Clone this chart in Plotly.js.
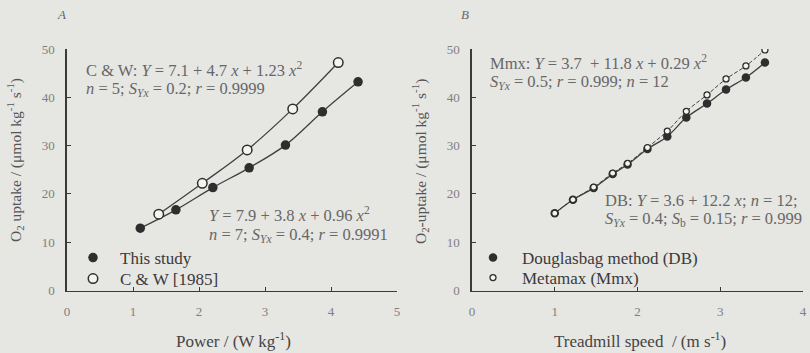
<!DOCTYPE html>
<html><head><meta charset="utf-8">
<script src="https://cdn.plot.ly/plotly-3.0.1.min.js"></script>
<style>html,body{margin:0;padding:0;background:#e6e6e3;}</style>
</head><body><div id="chart" style="width:810px;height:353px;"></div>
<script>
// Panel A: O2 uptake vs power
const studyPower = [1.11, 1.65, 2.21, 2.76, 3.31, 3.87, 4.41];
const studyO2    = [12.9, 16.7, 21.3, 25.4, 30.1, 37.0, 43.2];
const cwPower    = [1.39, 2.05, 2.73, 3.42, 4.11];
const cwO2       = [15.8, 22.2, 29.1, 37.6, 47.2];
// Panel B: O2 uptake vs treadmill speed
const speed = [1.0, 1.22, 1.47, 1.70, 1.88, 2.12, 2.36, 2.59, 2.84, 3.07, 3.31, 3.54];
const dbO2  = [16.0, 18.8, 21.2, 24.1, 26.1, 29.3, 31.9, 35.8, 38.7, 41.6, 44.1, 47.2];
const mmxO2 = [16.0, 18.8, 21.4, 24.3, 26.3, 29.6, 33.0, 37.1, 40.5, 43.8, 46.5, 49.8];
const legendNamesA = ['This study', 'C &amp; W [1985]'];
const legendNamesB = ['Douglasbag method (DB)', 'Metamax (Mmx)'];

const FONT = 'Liberation Serif, Times New Roman, serif';
const DARK = '#2e2e2e';
const W = 810, H = 353;
const px = v => v / W, py = v => (H - v) / H;

const traces = [
  {x: studyPower, y: studyO2, mode: 'lines', line: {shape: 'spline', color: '#404040', width: 1.3}, showlegend: false, hoverinfo: 'skip', xaxis: 'x', yaxis: 'y'},
  {x: cwPower, y: cwO2, mode: 'lines', line: {shape: 'spline', color: '#404040', width: 1.3}, showlegend: false, hoverinfo: 'skip', xaxis: 'x', yaxis: 'y'},
  {x: studyPower, y: studyO2, mode: 'markers', name: legendNamesA[0], marker: {symbol: 'circle', size: 9.5, color: DARK}, xaxis: 'x', yaxis: 'y', legend: 'legend'},
  {x: cwPower, y: cwO2, mode: 'markers', name: legendNamesA[1], marker: {symbol: 'circle', size: 9.5, color: '#f4f4f2', line: {color: DARK, width: 1.5}}, xaxis: 'x', yaxis: 'y', legend: 'legend2'},
  {x: speed, y: dbO2, mode: 'lines', line: {shape: 'spline', color: '#404040', width: 1.3}, showlegend: false, hoverinfo: 'skip', xaxis: 'x2', yaxis: 'y2'},
  {x: speed, y: mmxO2, mode: 'lines', line: {shape: 'spline', color: '#404040', width: 1, dash: '4px,2px'}, showlegend: false, hoverinfo: 'skip', xaxis: 'x2', yaxis: 'y2'},
  {x: speed, y: dbO2, mode: 'markers', name: legendNamesB[0], marker: {symbol: 'circle', size: 8.5, color: DARK}, xaxis: 'x2', yaxis: 'y2', legend: 'legend3'},
  {x: speed, y: mmxO2, mode: 'markers', name: legendNamesB[1], marker: {symbol: 'circle', size: 6, color: '#f4f4f2', line: {color: DARK, width: 1.3}}, xaxis: 'x2', yaxis: 'y2', legend: 'legend4'}
];

const axisBase = {
  showline: true, linecolor: '#3a3a3a', linewidth: 1.6, mirror: false,
  ticks: 'inside', ticklen: 4, tickwidth: 1, tickcolor: '#3a3a3a',
  showgrid: false, zeroline: false, fixedrange: true,
  tickfont: {family: FONT, size: 13, color: '#808080'}, ticklabelstandoff: 8
};
const yDom = [py(290.5), py(49)];

const ann = (text, x, y, size, color, extra) => Object.assign({
  text, x: px(x), y: py(y), xref: 'paper', yref: 'paper', xanchor: 'left', yanchor: 'middle',
  showarrow: false, font: {family: FONT, size, color}
}, extra || {});

const EQ = 16.5, EQC = '#676767';
const annotations = [
  ann('<i>A</i>', 55, 15, 13, '#666'),
  ann('<i>B</i>', 459, 15, 13, '#666'),
  ann('C &amp; W: <i>Y</i> = 7.1 + 4.7 <i>x</i> + 1.23 <i>x</i><sup>2</sup>', 84, 70, EQ, EQC),
  ann('<i>n</i> = 5; <i>S</i><sub><i>Yx</i></sub> = 0.2; <i>r</i> = 0.9999', 84, 89, EQ, EQC),
  ann('<i>Y</i> = 7.9 + 3.8 <i>x</i> + 0.96 <i>x</i><sup>2</sup>', 207, 214, EQ, EQC),
  ann('<i>n</i> = 7; <i>S</i><sub><i>Yx</i></sub> = 0.4; <i>r</i> = 0.9991', 207, 235, EQ, EQC),
  ann('Mmx: <i>Y</i> = 3.7  + 11.8 <i>x</i> + 0.29 <i>x</i><sup>2</sup>', 488, 62, EQ, EQC),
  ann('<i>S</i><sub><i>Yx</i></sub> = 0.5; <i>r</i> = 0.999; <i>n</i> = 12', 488, 82, EQ, EQC),
  ann('DB: <i>Y</i> = 3.6 + 12.2 <i>x</i>; <i>n</i> = 12;', 603, 200, EQ, EQC),
  ann('<i>S</i><sub><i>Yx</i></sub> = 0.4; <i>S</i><sub>b</sub> = 0.15; <i>r</i> = 0.999', 603, 219, EQ, EQC),
  ann('Power / (W kg<sup>-1</sup>)', 233, 340, 17, '#444', {xanchor: 'center'}),
  ann('Treadmill speed  / (m s<sup>-1</sup>)', 640, 340, 17, '#444', {xanchor: 'center'}),
  ann('O<sub>2</sub> uptake / (μmol kg<sup>-1</sup> s<sup>-1</sup>)', 15, 160, 15.5, '#555', {xanchor: 'center', textangle: -90}),
  ann('O<sub>2</sub>-uptake / (μmol kg<sup>-1</sup> s<sup>-1</sup>)', 420, 162, 15.5, '#555', {xanchor: 'center', textangle: -90})
];

const legendBase = {
  xanchor: 'left', yanchor: 'middle', bgcolor: 'rgba(0,0,0,0)', borderwidth: 0,
  font: {family: FONT, size: 17, color: '#3a3a3a'}, tracegroupgap: 0,
  itemclick: false, itemdoubleclick: false
};
const mkLegend = (symX, symY, iw) => Object.assign({}, legendBase, {
  itemwidth: iw, x: px(symX - (iw / 2 + 5)), y: py(symY)
});

const layout = {
  width: W, height: H, margin: {l: 0, r: 0, t: 0, b: 0},
  paper_bgcolor: '#e6e6e3', plot_bgcolor: 'rgba(0,0,0,0)',
  showlegend: true,
  xaxis: Object.assign({}, axisBase, {domain: [px(67), px(397)], range: [0, 5], dtick: 1, anchor: 'y'}),
  yaxis: Object.assign({}, axisBase, {domain: yDom, range: [0, 50], dtick: 10, anchor: 'x'}),
  xaxis2: Object.assign({}, axisBase, {domain: [px(472), px(803)], range: [0, 4], dtick: 1, anchor: 'y2'}),
  yaxis2: Object.assign({}, axisBase, {domain: yDom, range: [0, 50], dtick: 10, anchor: 'x2'}),
  legend: mkLegend(93, 258, 44),
  legend2: mkLegend(93, 279, 44),
  legend3: mkLegend(493, 258, 48),
  legend4: mkLegend(493, 278, 48),
  annotations
};

Plotly.newPlot('chart', traces, layout, {displayModeBar: false, staticPlot: true});
</script></body></html>
